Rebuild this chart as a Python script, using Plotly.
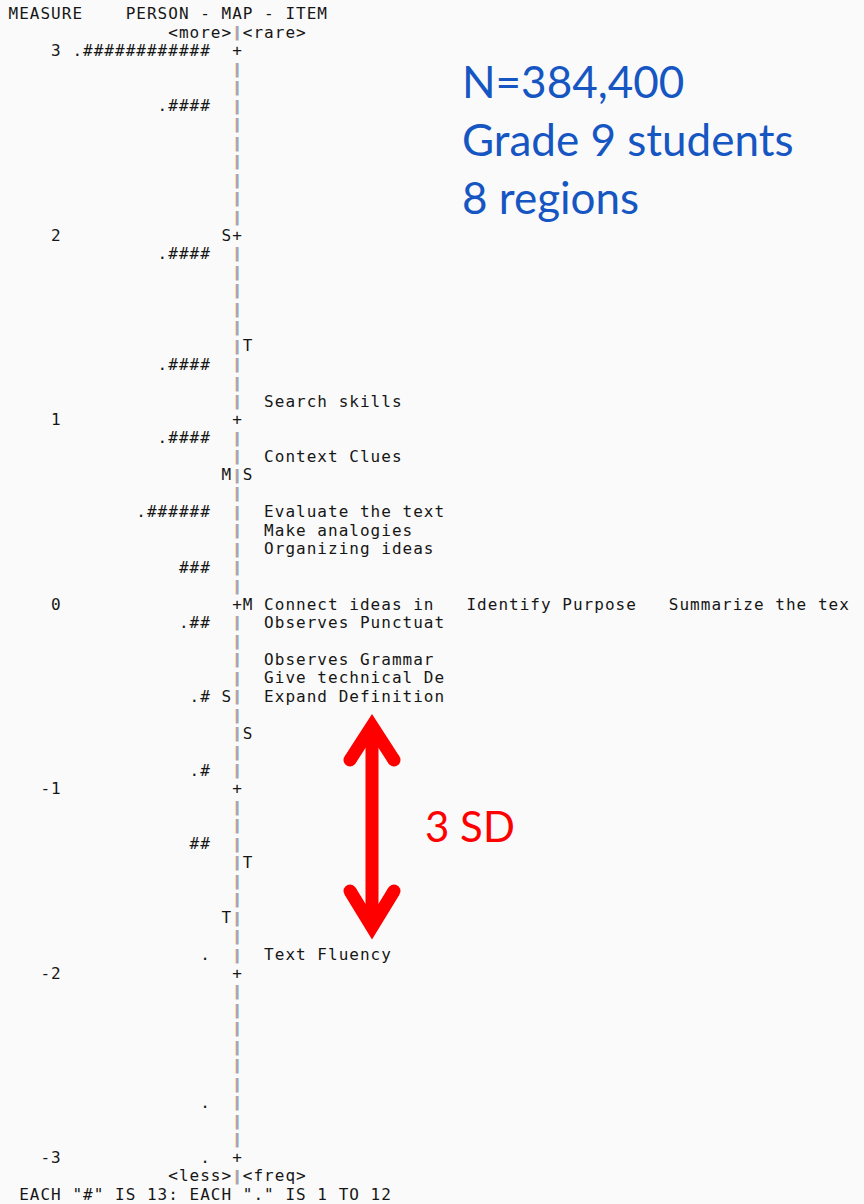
import plotly.graph_objects as go

W, H = 864, 1204

# ---- Wright map data -------------------------------------------------------
measure_ticks = [3, 2, 1, 0, -1, -2, -3]

# person distribution: one "#" = 13 persons, "." = 1 to 12 persons
person_measures = [3.0, 2.7, 1.9, 1.3, 0.9, 0.5, 0.2, -0.1, -0.5, -0.9, -1.3, -1.9, -2.7, -3.0]
person_bars = [".############", ".####", ".####", ".####", ".####", ".######", "###",
               ".##", ".#", ".#", "##", ".", ".", "."]

# person mean / 1 SD / 2 SD markers
person_marker_measures = [2.0, 0.7, -0.5, -1.7]
person_marker_labels = ["S", "M", "S", "T"]

# item mean / 1 SD / 2 SD markers
item_marker_measures = [1.4, 0.7, 0.0, -0.7, -1.4]
item_marker_labels = ["T", "S", "M", "S", "T"]

item_names = ["Search skills", "Context Clues", "Evaluate the text", "Make analogies",
              "Organizing ideas", "Connect ideas in", "Identify Purpose",
              "Summarize the tex", "Observes Punctuat", "Observes Grammar",
              "Give technical De", "Expand Definition", "Text Fluency"]
item_measures = [1.1, 0.8, 0.5, 0.4, 0.3, 0.0, 0.0, 0.0, -0.1, -0.3, -0.4, -0.5, -1.9]

header_lines = ["MEASURE    PERSON - MAP - ITEM", "               <more>|<rare>"]
footer_lines = ["               <less>|<freq>", ' EACH "#" IS 13: EACH "." IS 1 TO 12']

title_lines = ["N=384,400", "Grade 9 students", "8 regions"]
spread_label = "3 SD"

# ---- text grid layout ------------------------------------------------------
CELL = 10.65          # width of one character column (px)
LEFT = 8.0            # left edge of column 0 (px)
COL_LABEL_END = 4     # measure labels right-aligned here
COL_PERSON_END = 18   # person bars right-aligned here
COL_PMARK = 20
COL_AXIS = 21
COL_IMARK = 22
COL_ITEM = 24
ITEM_SLOT = 19        # 17-char label + 2 spaces
STEP = 0.1            # measure per text row


def key(m):
    return int(round(m * 10))


rows = {}


def put(m, col, s):
    row = rows.setdefault(key(m), {})
    for i, ch in enumerate(s):
        if ch != " ":
            row[col + i] = ch


# axis column
n_rows = int(round((measure_ticks[0] - measure_ticks[-1]) / STEP))
for r in range(n_rows + 1):
    m = measure_ticks[0] - r * STEP
    put(m, COL_AXIS, "+" if key(m) % 10 == 0 else "|")

for t in measure_ticks:
    s = str(t)
    put(t, COL_LABEL_END - len(s) + 1, s)

for m, bar in zip(person_measures, person_bars):
    put(m, COL_PERSON_END - len(bar) + 1, bar)

for m, lab in zip(person_marker_measures, person_marker_labels):
    put(m, COL_PMARK, lab)

for m, lab in zip(item_marker_measures, item_marker_labels):
    put(m, COL_IMARK, lab)

slots = {}
for m, name in zip(item_measures, item_names):
    k = key(m)
    n = slots.get(k, 0)
    put(m, COL_ITEM + n * ITEM_SLOT, name)
    slots[k] = n + 1

for i, line in enumerate(header_lines):
    put(measure_ticks[0] + (len(header_lines) - i) * STEP, 0, line)
for i, line in enumerate(footer_lines):
    put(measure_ticks[-1] - (i + 1) * STEP, 0, line)

tx, ty, tt = [], [], []
px_, py_ = [], []
for k, row in rows.items():
    for col, ch in row.items():
        x = LEFT + (col + 0.5) * CELL
        if ch == "|" and col == COL_AXIS:
            px_.append(x)
            py_.append(k / 10)
        else:
            tx.append(x)
            ty.append(k / 10)
            tt.append(ch)

fig = go.Figure()

# vertical map rule, drawn with a warm/cool fringe
fig.add_trace(go.Scatter(x=[v - 0.6 for v in px_], y=py_, mode="text", text=["|"] * len(px_),
                         textfont=dict(family="DejaVu Sans Mono", size=14, color="#dc8a3e"),
                         hoverinfo="skip", showlegend=False))
fig.add_trace(go.Scatter(x=[v + 0.7 for v in px_], y=py_, mode="text", text=["|"] * len(px_),
                         textfont=dict(family="DejaVu Sans Mono", size=14, color="#5d9ad8"),
                         hoverinfo="skip", showlegend=False))

fig.add_trace(go.Scatter(x=tx, y=ty, mode="text", text=tt, textposition="middle center",
                         textfont=dict(family="DejaVu Sans Mono", size=16, color="#161616"),
                         hoverinfo="skip", showlegend=False))


def yp(p):
    return 1 - p / H


# summary text
title_centers = [81, 139, 197]
for line, c in zip(title_lines, title_centers):
    fig.add_annotation(x=460, y=yp(c), xref="x", yref="paper", text=line, showarrow=False,
                       xanchor="left", yanchor="middle",
                       font=dict(family="Lato", size=44, color="#1656c2"))

fig.add_annotation(x=423, y=yp(826), xref="x", yref="paper", text=spread_label, showarrow=False,
                   xanchor="left", yanchor="middle",
                   font=dict(family="Lato", size=42, color="#ff0000"))

# double-headed arrow
AX, ARM, LW = 372, 22, 13
top_v, top_arm = 726, 760
bot_v, bot_arm = 927, 891
red = "#ff0000"
shapes = [
    dict(type="line", xref="x", yref="paper", x0=AX, x1=AX, y0=yp(top_v), y1=yp(bot_v),
         line=dict(color=red, width=LW)),
    dict(type="path", xref="x", yref="paper",
         path=f"M {AX-ARM},{yp(top_arm)} L {AX},{yp(top_v)} L {AX+ARM},{yp(top_arm)}",
         line=dict(color=red, width=LW)),
    dict(type="path", xref="x", yref="paper",
         path=f"M {AX-ARM},{yp(bot_arm)} L {AX},{yp(bot_v)} L {AX+ARM},{yp(bot_arm)}",
         line=dict(color=red, width=LW)),
]
rr = LW / 2
for cx, cy in [(AX - ARM, top_arm), (AX + ARM, top_arm), (AX - ARM, bot_arm), (AX + ARM, bot_arm)]:
    shapes.append(dict(type="circle", xref="x", yref="paper", x0=cx - rr, x1=cx + rr,
                       y0=yp(cy + rr), y1=yp(cy - rr), fillcolor=red, line=dict(width=0)))

# row 3.0 sits 52 px below the top; 184.5 px per logit
PX_PER_UNIT = 184.5
y_top = measure_ticks[0] + 52 / PX_PER_UNIT
y_bot = measure_ticks[0] - (H - 52) / PX_PER_UNIT

fig.update_layout(
    width=W, height=H, margin=dict(l=0, r=0, t=0, b=0),
    paper_bgcolor="#fafafa", plot_bgcolor="#fafafa",
    xaxis=dict(range=[0, W], visible=False, fixedrange=True),
    yaxis=dict(range=[y_bot, y_top], visible=False, fixedrange=True),
    shapes=shapes, showlegend=False,
)

fig.write_html("out.html")
